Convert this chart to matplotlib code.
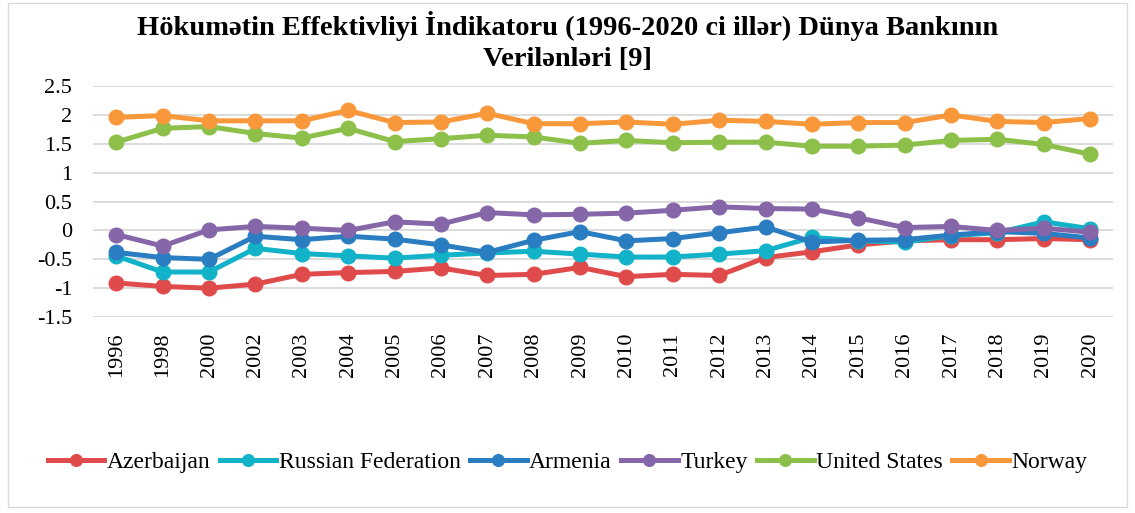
import numpy as np
import matplotlib
matplotlib.use('Agg')
import matplotlib.pyplot as plt
from matplotlib.patches import Rectangle
from matplotlib.ticker import FuncFormatter

years = ['1996', '1998', '2000', '2002', '2003', '2004', '2005', '2006', '2007', '2008', '2009',
         '2010', '2011', '2012', '2013', '2014', '2015', '2016', '2017', '2018', '2019', '2020']

azerbaijan = [-0.91, -0.97, -1.00, -0.93, -0.76, -0.73, -0.71, -0.65, -0.78, -0.76, -0.64,
              -0.80, -0.76, -0.78, -0.47, -0.37, -0.25, -0.18, -0.16, -0.16, -0.14, -0.16]
russia = [-0.44, -0.72, -0.72, -0.31, -0.40, -0.44, -0.48, -0.43, -0.39, -0.36, -0.41,
          -0.46, -0.46, -0.41, -0.35, -0.12, -0.18, -0.20, -0.09, -0.04, 0.15, 0.03]
armenia = [-0.38, -0.47, -0.50, -0.10, -0.16, -0.10, -0.15, -0.25, -0.38, -0.17, -0.02,
           -0.18, -0.14, -0.04, 0.06, -0.20, -0.17, -0.16, -0.08, -0.02, -0.05, -0.13]
turkey = [-0.07, -0.27, 0.01, 0.07, 0.04, 0.00, 0.15, 0.11, 0.31, 0.27, 0.28,
          0.30, 0.35, 0.41, 0.38, 0.37, 0.22, 0.05, 0.07, 0.00, 0.04, -0.03]
usa = [1.53, 1.77, 1.80, 1.68, 1.60, 1.77, 1.54, 1.59, 1.65, 1.62, 1.51,
       1.56, 1.52, 1.53, 1.53, 1.46, 1.46, 1.48, 1.56, 1.58, 1.49, 1.32]
norway = [1.96, 1.99, 1.90, 1.90, 1.90, 2.08, 1.87, 1.88, 2.03, 1.85, 1.85,
          1.88, 1.84, 1.91, 1.89, 1.84, 1.87, 1.87, 2.00, 1.89, 1.87, 1.94]

series = [
    ('Azerbaijan', azerbaijan, '#DF4B4B'),
    ('Russian Federation', russia, '#12B2C9'),
    ('Armenia', armenia, '#2A7DC1'),
    ('Turkey', turkey, '#8566A8'),
    ('United States', usa, '#8DC04A'),
    ('Norway', norway, '#F9983A'),
]

plt.rcParams['font.family'] = ['Liberation Serif', 'DejaVu Serif']

fig = plt.figure(figsize=(11.35, 5.13), dpi=100)
ax = fig.add_axes([0.082, 0.382, 0.899, 0.45])

x = np.arange(len(years))
for name, vals, col in series:
    ax.plot(x, vals, color=col, lw=3.6, marker='o', ms=10.5, label=name, zorder=3)

ax.set_ylim(-1.5, 2.5)
ax.set_yticks(np.arange(-1.5, 2.51, 0.5))
ax.yaxis.set_major_formatter(FuncFormatter(lambda v, p: '%g' % v))
ax.set_xlim(-0.5, 21.5)
ax.set_xticks(x)
ax.set_xticklabels(years, rotation=90, fontsize=16)
ax.tick_params(axis='y', labelsize=16, length=0, pad=15)
ax.tick_params(axis='x', length=0, pad=11)
ax.grid(axis='y', color='#D9D9D9', lw=1.3, zorder=0)
for s in ax.spines.values():
    s.set_visible(False)

fig.text(0.5, 0.978, 'Hökumətin Effektivliyi İndikatoru (1996-2020 ci illər) Dünya Bankının\nVerilənləri [9]',
         ha='center', va='top', fontsize=20.5, fontweight='bold', linespacing=1.3)

fig.legend(loc='center', bbox_to_anchor=(0.5, 0.099), ncol=6, frameon=False,
           fontsize=17, handlelength=2.4, handletextpad=0.1, columnspacing=0.4,
           markerscale=0.8)

fig.patches.append(Rectangle((0.007, 0.012), 0.986, 0.983, transform=fig.transFigure,
                             fill=False, ec='#D9D9D9', lw=1))

fig.savefig('out.png', dpi=100, facecolor='white')
